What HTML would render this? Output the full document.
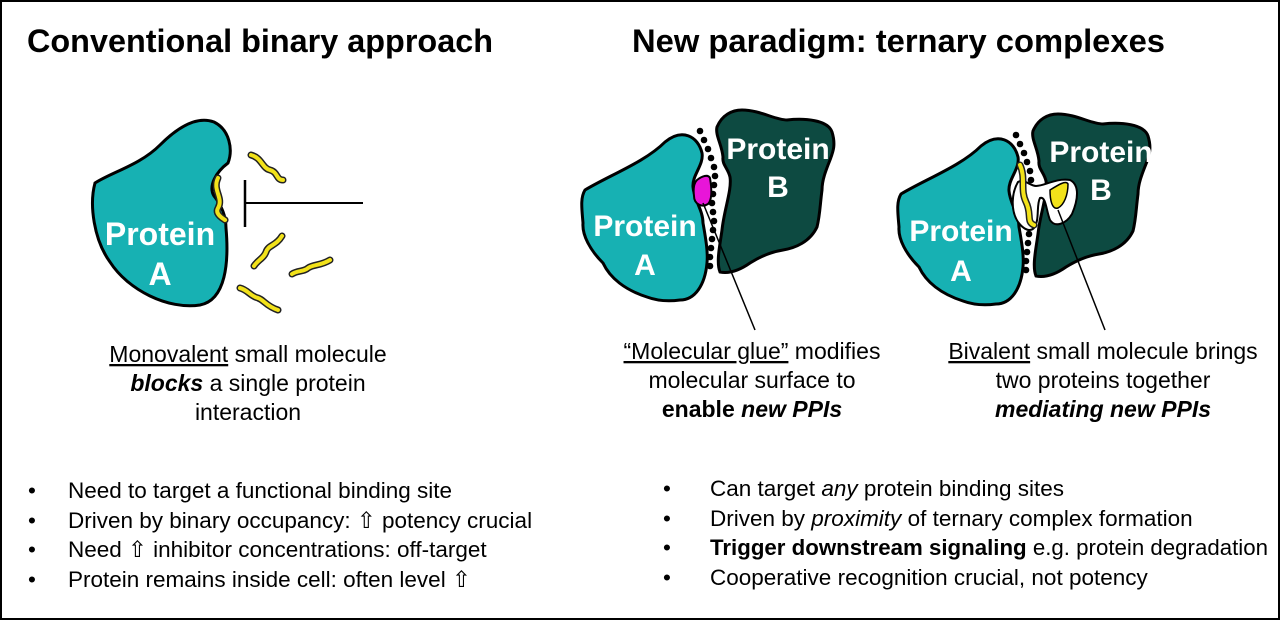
<!DOCTYPE html>
<html><head><meta charset="utf-8"><style>
html,body{margin:0;padding:0;background:#fff}
svg{display:block}
text{font-family:"Liberation Sans",sans-serif}
</style></head><body>
<svg width="1280" height="620" viewBox="0 0 1280 620" xmlns="http://www.w3.org/2000/svg">
<rect x="1" y="1" width="1278" height="618" fill="#fff" stroke="#000" stroke-width="2"/>
<text x="27" y="52" font-size="32" font-weight="bold" textLength="466" lengthAdjust="spacingAndGlyphs">Conventional binary approach</text>
<text x="632" y="52" font-size="32" font-weight="bold" textLength="533" lengthAdjust="spacingAndGlyphs">New paradigm: ternary complexes</text>

<!-- Left protein A -->
<path d="M95,183 C112,172 140,165 160,145 C180,125 198,116 214,122 C230,130 233,150 228,163 C216,172 208,186 214,196 C222,206 226,216 226,228 C229,262 226,300 200,305 C168,310 128,290 110,262 C94,240 89,205 95,183 Z" fill="#17b1b3" stroke="#000" stroke-width="3"/>
<text x="160" y="245" font-size="32" font-weight="bold" fill="#fff" text-anchor="middle">Protein</text>
<text x="160" y="285" font-size="32" font-weight="bold" fill="#fff" text-anchor="middle">A</text>
<g fill="none" stroke-linecap="round" stroke-linejoin="round">
<g stroke="#222" stroke-width="7">
<path d="M218,178 C212,190 224,198 218,208 C214,215 226,220 225,220"/>
<path d="M251,155 C262,158 262,168 270,170 C278,172 276,180 283,180"/>
<path d="M282,236 C276,246 268,245 266,252 C264,258 258,260 254,266"/>
<path d="M292,274 C298,270 304,272 308,268 C314,264 320,266 330,260"/>
<path d="M240,288 C248,290 250,296 258,298 C264,300 266,306 278,310"/>
</g>
<g stroke="#f2e21a" stroke-width="4">
<path d="M218,178 C212,190 224,198 218,208 C214,215 226,220 225,220"/>
<path d="M251,155 C262,158 262,168 270,170 C278,172 276,180 283,180"/>
<path d="M282,236 C276,246 268,245 266,252 C264,258 258,260 254,266"/>
<path d="M292,274 C298,270 304,272 308,268 C314,264 320,266 330,260"/>
<path d="M240,288 C248,290 250,296 258,298 C264,300 266,306 278,310"/>
</g>
</g>
<line x1="245" y1="180" x2="245" y2="227" stroke="#000" stroke-width="2.5"/>
<line x1="245" y1="203" x2="363" y2="203" stroke="#000" stroke-width="2"/>

<!-- Ternary 1 -->
<g id="t1">
<path d="M585,190 C610,175 645,162 665,142 C682,128 698,136 702,153 C704,165 692,175 693,187 C694,200 703,210 703,223 C706,240 708,252 707,263 C705,285 695,300 680,300 C665,302 655,300 647,297 C625,290 610,278 603,263 C590,250 582,235 583,223 C582,210 580,198 585,190 Z" fill="#17b1b3" stroke="#000" stroke-width="3"/>
<path d="M717,127 C722,115 732,110 742,110 C760,110 775,120 787,120 C805,118 828,120 832,132 C836,145 833,152 830,160 C826,170 822,180 822,190 C820,205 820,215 817,227 C810,242 795,248 783,250 C770,252 758,258 750,263 C740,270 730,274 720,272 C716,262 720,245 722,230 C724,210 732,190 730,177 C728,168 722,165 723,157 C722,145 715,135 717,127 Z" fill="#0d4a41" stroke="#000" stroke-width="3"/>
<g fill="#000">
<circle cx="700" cy="131" r="3.3"/><circle cx="704" cy="140" r="3.3"/><circle cx="708" cy="149" r="3.3"/><circle cx="711" cy="158" r="3.3"/><circle cx="714" cy="167" r="3.3"/><circle cx="715" cy="176" r="3.3"/><circle cx="714" cy="185" r="3.3"/><circle cx="713" cy="194" r="3.3"/><circle cx="712" cy="203" r="3.3"/><circle cx="713" cy="212" r="3.3"/><circle cx="714" cy="221" r="3.3"/><circle cx="713" cy="230" r="3.3"/><circle cx="712" cy="239" r="3.3"/><circle cx="711" cy="248" r="3.3"/><circle cx="710" cy="257" r="3.3"/><circle cx="710" cy="266" r="3.3"/>
</g>
</g>
<path d="M697,180 C702,176 708,174 710,178 C712,190 712,200 708,204 C702,208 694,204 694,196 C693,188 694,183 697,180 Z" fill="#e815d8" stroke="#000" stroke-width="2"/>
<line x1="703" y1="203" x2="755" y2="330" stroke="#000" stroke-width="1.5"/>
<text x="645" y="236" font-size="30" font-weight="bold" fill="#fff" text-anchor="middle">Protein</text>
<text x="645" y="275" font-size="30" font-weight="bold" fill="#fff" text-anchor="middle">A</text>
<text x="778" y="159" font-size="30" font-weight="bold" fill="#fff" text-anchor="middle">Protein</text>
<text x="778" y="197" font-size="30" font-weight="bold" fill="#fff" text-anchor="middle">B</text>

<!-- Ternary 2 -->
<use href="#t1" transform="translate(316,4)"/>
<path d="M1018,182 C1012,192 1010,210 1018,222 C1024,230 1030,232 1034,228 C1040,220 1036,205 1040,198 C1046,196 1046,210 1050,220 C1055,228 1066,224 1072,214 C1078,200 1080,185 1070,180 C1055,178 1045,186 1036,186 C1030,186 1024,178 1018,182 Z" fill="#fff" stroke="#000" stroke-width="2"/>
<path d="M1020,165 C1026,178 1020,190 1026,202 C1032,214 1026,222 1034,225" fill="none" stroke="#222" stroke-width="7" stroke-linecap="round"/>
<path d="M1020,165 C1026,178 1020,190 1026,202 C1032,214 1026,222 1034,225" fill="none" stroke="#f2e21a" stroke-width="4" stroke-linecap="round"/>
<path d="M1050,190 C1058,185 1066,180 1068,184 C1068,195 1064,205 1058,208 C1052,210 1050,200 1050,190 Z" fill="#f2e21a" stroke="#000" stroke-width="1.5"/>
<line x1="1058" y1="210" x2="1105" y2="330" stroke="#000" stroke-width="1.5"/>
<text x="961" y="241" font-size="30" font-weight="bold" fill="#fff" text-anchor="middle">Protein</text>
<text x="961" y="281" font-size="30" font-weight="bold" fill="#fff" text-anchor="middle">A</text>
<text x="1101" y="162" font-size="30" font-weight="bold" fill="#fff" text-anchor="middle">Protein</text>
<text x="1101" y="200" font-size="30" font-weight="bold" fill="#fff" text-anchor="middle">B</text>

<!-- captions -->
<g font-size="23" text-anchor="middle" fill="#000">
<text x="248" y="362"><tspan text-decoration="underline">Monovalent</tspan> small molecule</text>
<text x="248" y="391"><tspan font-weight="bold" font-style="italic">blocks</tspan> a single protein</text>
<text x="248" y="420">interaction</text>
<text x="752" y="359"><tspan text-decoration="underline">“Molecular glue”</tspan> modifies</text>
<text x="752" y="388">molecular surface to</text>
<text x="752" y="417" font-weight="bold">enable <tspan font-style="italic">new PPIs</tspan></text>
<text x="1103" y="359"><tspan text-decoration="underline">Bivalent</tspan> small molecule brings</text>
<text x="1103" y="388">two proteins together</text>
<text x="1103" y="417" font-weight="bold" font-style="italic">mediating new PPIs</text>
</g>

<!-- bullets -->
<g font-size="22.5" fill="#000">
<text x="28" y="498">•</text><text x="68" y="498">Need to target a functional binding site</text>
<text x="28" y="528">•</text><text x="68" y="528">Driven by binary occupancy: ⇧ potency crucial</text>
<text x="28" y="557">•</text><text x="68" y="557">Need ⇧ inhibitor concentrations: off-target</text>
<text x="28" y="587">•</text><text x="68" y="587">Protein remains inside cell: often level ⇧</text>
<text x="663" y="496">•</text><text x="710" y="496">Can target <tspan font-style="italic">any</tspan> protein binding sites</text>
<text x="663" y="526">•</text><text x="710" y="526">Driven by <tspan font-style="italic">proximity</tspan> of ternary complex formation</text>
<text x="663" y="555">•</text><text x="710" y="555" textLength="558" lengthAdjust="spacingAndGlyphs"><tspan font-weight="bold">Trigger downstream signaling</tspan> e.g. protein degradation</text>
<text x="663" y="585">•</text><text x="710" y="585">Cooperative recognition crucial, not potency</text>
</g>
</svg>
</body></html>
